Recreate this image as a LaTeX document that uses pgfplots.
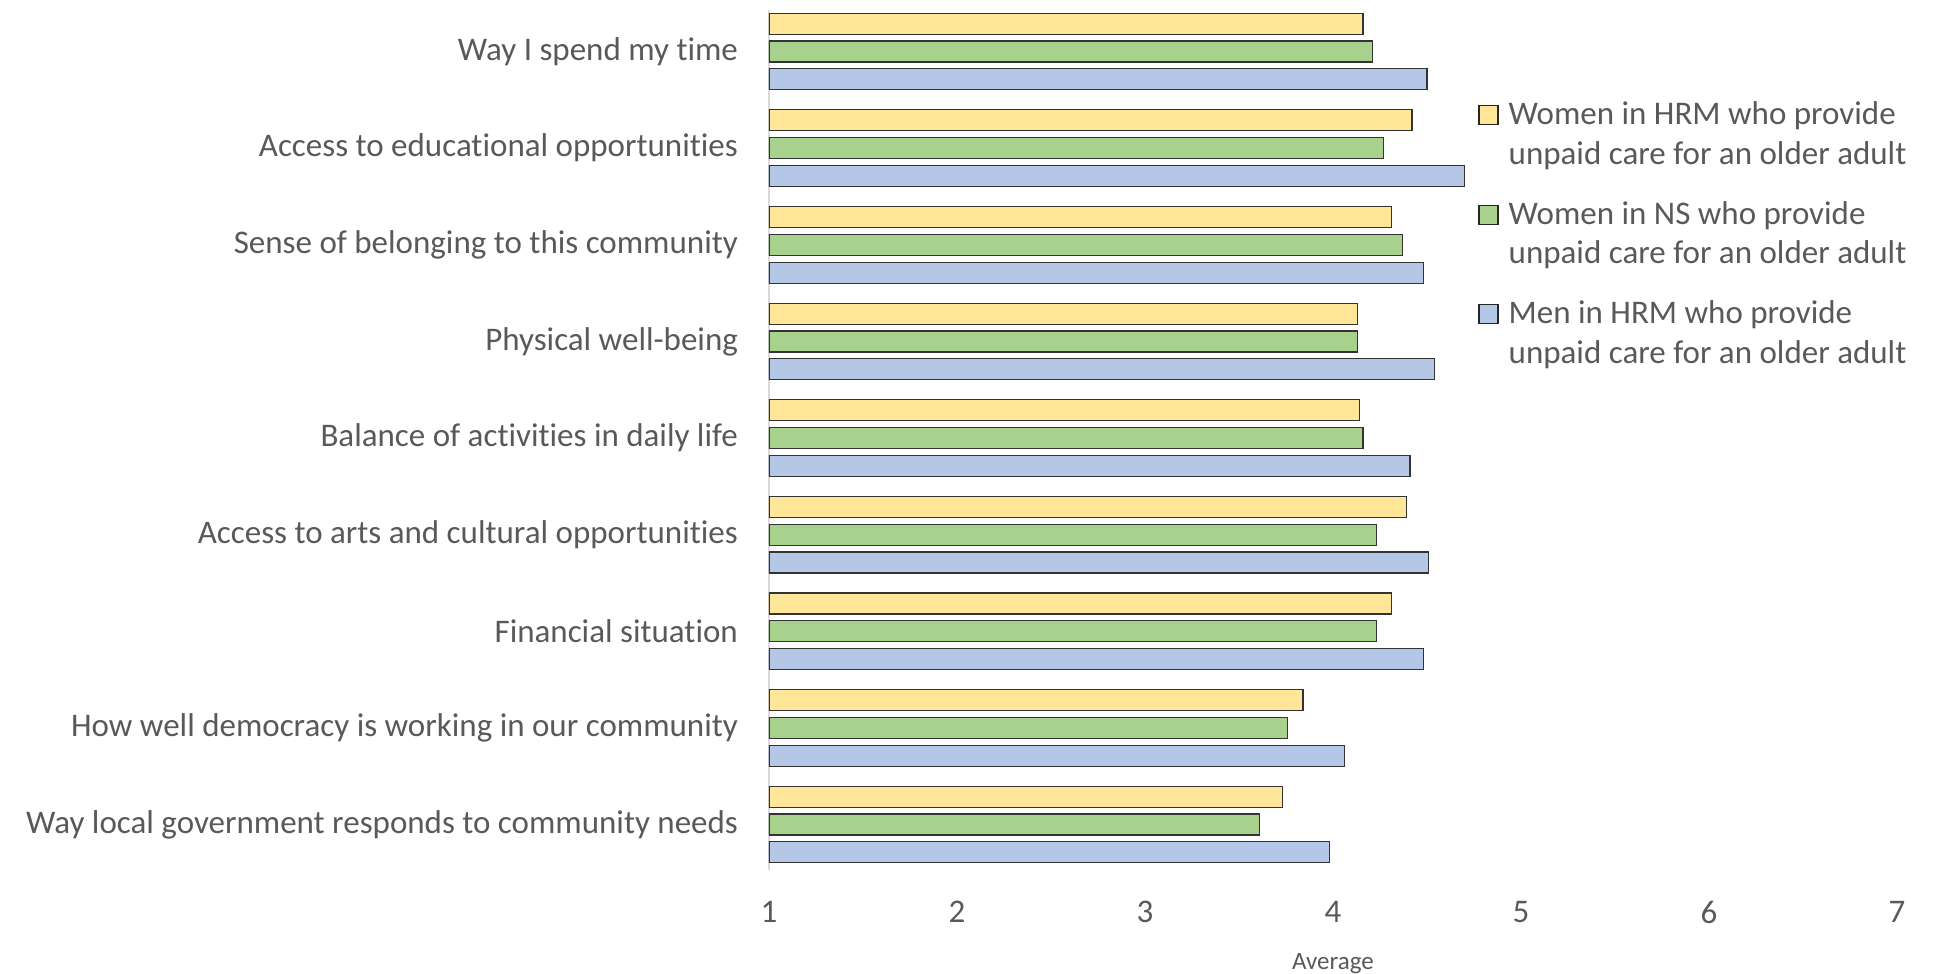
\documentclass[border=0pt]{standalone}
\usepackage{fontspec}
\setmainfont{Carlito}[Ligatures=NoCommon]
\usepackage{pgfplots}
\pgfplotsset{compat=1.18}
\definecolor{txt}{HTML}{595959}
\definecolor{cyel}{HTML}{FFE699}
\definecolor{cgrn}{HTML}{A9D18E}
\definecolor{cblu}{HTML}{B4C7E7}
\definecolor{axl}{HTML}{D9D9D9}
\begin{document}
\begin{tikzpicture}
\useasboundingbox (0,0) rectangle (967.5pt,487pt);
\begin{axis}[
  at={(384.5pt,52pt)}, anchor=south west,
  scale only axis, width=564pt, height=430pt,
  xbar, bar width=10.5pt,
  xmin=1, xmax=7, xtick={1,2,3,4,5,6,7},
  ymin=-0.47, ymax=8.43,
  ytick={0,1,2,3,4,5,6,7,8},
  yticklabels={Way local government responds to community needs,
    How well democracy is working in our community,
    Financial situation,
    Access to arts and cultural opportunities,
    Balance of activities in daily life,
    Physical well-being,
    Sense of belonging to this community,
    Access to educational opportunities,
    Way I spend my time},
  axis x line*=bottom, axis y line*=left,
  axis line style={-},
  x axis line style={draw=none},
  y axis line style={draw=axl, line width=0.8pt},
  major tick length=0pt,
  /pgf/number format/assume math mode=true,
  tick label style={font=\fontsize{16.5}{19.75}\selectfont, text=txt},
  xticklabel style={yshift=-12pt},
  yticklabel style={anchor=east, xshift=-12pt},
  xlabel={Average},
  xlabel style={font=\fontsize{12.5}{15}\selectfont, text=txt, yshift=-8pt},
  legend style={at={(0.6233,0.903)}, anchor=north west, draw=none, fill=none,
    font=\fontsize{16.5}{19.75}\selectfont, text=txt,
    row sep=32.8pt, legend cell align=left},
  legend image code/.code={\draw[#1, draw=black!85, line width=0.6pt] (0pt,-5pt) rectangle (9.5pt,4.5pt); \path (12.5pt,0pt);},
  every axis plot/.append style={draw=black!80, line width=0.6pt},
  clip=true,
]
\addplot[fill=cyel, bar shift=13.9pt] coordinates {
  (4.16,8) (4.42,7) (4.31,6) (4.13,5) (4.14,4) (4.39,3) (4.31,2) (3.84,1) (3.73,0)};
\addplot[fill=cgrn, bar shift=0pt] coordinates {
  (4.21,8) (4.27,7) (4.37,6) (4.13,5) (4.16,4) (4.23,3) (4.23,2) (3.76,1) (3.61,0)};
\addplot[fill=cblu, bar shift=-13.9pt] coordinates {
  (4.50,8) (4.70,7) (4.48,6) (4.54,5) (4.41,4) (4.51,3) (4.48,2) (4.06,1) (3.98,0)};
\addlegendentry{\parbox[t]{215pt}{Women in HRM who provide\newline unpaid care for an older adult}}
\addlegendentry{\parbox[t]{215pt}{Women in NS who provide\newline unpaid care for an older adult}}
\addlegendentry{\parbox[t]{215pt}{Men in HRM who provide\newline unpaid care for an older adult}}
\end{axis}
\end{tikzpicture}
\end{document}
